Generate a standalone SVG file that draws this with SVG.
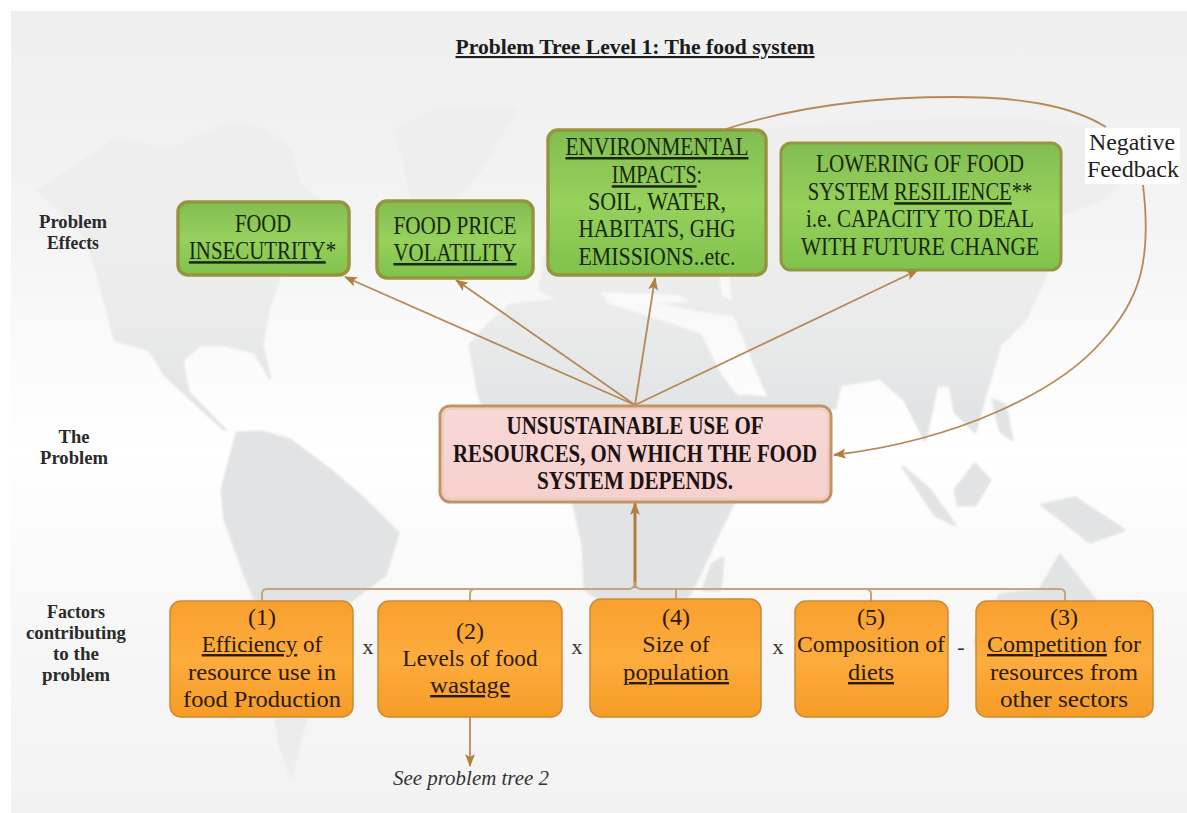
<svg xmlns="http://www.w3.org/2000/svg" width="1187" height="813" viewBox="0 0 1187 813">
<style>
text{font-family:"Liberation Serif","DejaVu Serif",serif;text-anchor:middle}
.g{font-size:25px;fill:#17280c}
.o{font-size:24px;fill:#2c1a08}
.s{font-size:18px;font-weight:bold;fill:#2a2a2a}
.p{font-size:25px;font-weight:bold;fill:#1a1212}
.x{font-size:22px;fill:#333}
.u{text-decoration:underline}
.c{fill:none;stroke:#b58a58;stroke-width:1.8}
.b{fill:none;stroke:#c4a57c;stroke-width:2}
.l{fill:#e2e3e4;stroke:#e2e3e4;stroke-width:3;stroke-linejoin:round}
.w{fill:#fbfbfb}
.gb{stroke:#95953f;stroke-width:3.5}
.ob{stroke:#c98a3a;stroke-width:1.5}
</style>
<defs>
<linearGradient id="bg" x1="0" y1="0" x2="0" y2="1"><stop offset="0" stop-color="#ebebec"/><stop offset=".3" stop-color="#f6f6f6"/><stop offset=".55" stop-color="#fff"/><stop offset=".75" stop-color="#f8f8f8"/><stop offset="1" stop-color="#eeeeee"/></linearGradient>
<linearGradient id="mapfade" x1="0" y1="0" x2="0" y2="1"><stop offset="0" stop-color="#f0f0f0" stop-opacity=".85"/><stop offset=".3" stop-color="#f4f4f4" stop-opacity=".6"/><stop offset=".5" stop-color="#fff" stop-opacity="0"/><stop offset=".8" stop-color="#fff" stop-opacity="0"/><stop offset="1" stop-color="#f4f4f4" stop-opacity=".7"/></linearGradient>
<linearGradient id="gr" x1="0" y1="0" x2="0" y2="1"><stop offset="0" stop-color="#82bd52"/><stop offset=".5" stop-color="#96d15c"/><stop offset="1" stop-color="#80c24c"/></linearGradient>
<linearGradient id="or" x1="0" y1="0" x2="0" y2="1"><stop offset="0" stop-color="#f8a02e"/><stop offset=".5" stop-color="#fdac3e"/><stop offset="1" stop-color="#f59c26"/></linearGradient>
<linearGradient id="pk" x1="0" y1="0" x2="0" y2="1"><stop offset="0" stop-color="#f7d8d5"/><stop offset="1" stop-color="#f6d0cd"/></linearGradient>
<marker id="a" markerWidth="14" markerHeight="12" refX="12" refY="5" orient="auto" markerUnits="userSpaceOnUse"><path d="M0 0L13 5L0 10L3 5Z" fill="#b0803e"/></marker>
<filter id="soft" x="-5%" y="-5%" width="110%" height="110%"><feGaussianBlur stdDeviation="1.2"/></filter>
</defs>
<rect width="1187" height="813" fill="#fff"/>
<rect x="11" y="11" width="1176" height="802" fill="url(#bg)"/>
<g id="map">
<g filter="url(#soft)">
<path class="l" d="M38 190L70 170L115 140L170 150L230 122L265 130L290 150L300 185L318 200L345 215L335 245L300 262L280 275L268 310L262 345L270 378L255 352L225 345L200 345L182 360L188 392L225 430L205 412L165 375L150 350L115 340L100 283L88 240L70 220Z"/>
<path class="l" d="M237 433L262 432L290 440L330 470L365 500L398 533L385 575L345 605L320 660L305 720L291 777L280 745L272 690L268 630L245 575L225 520L222 490Z"/>
<path class="l" d="M395 130L440 108L515 110L495 145L480 170L450 205L435 222L412 200L405 165Z"/>
<path class="l" d="M470 345L488 325L510 305L560 300L590 300L650 318L700 335L720 375L735 395L790 400L770 440L745 480L720 530L692 590L680 605L610 605L585 590L583 545L573 500L545 440L490 430L478 390Z"/>
<path class="l" d="M703 590L712 565L723 558L720 590Z"/>
<path class="l" d="M540 290L545 255L552 230L580 205L610 190L640 200L660 170L690 145L760 130L880 122L1010 118L1090 128L1170 145L1130 175L1100 200L1060 215L1045 225L1048 270L1025 320L1000 345L985 395L975 432L955 412L950 385L937 385L925 440L905 400L880 378L840 385L835 408L775 410L755 365L735 315L700 310L640 298L570 305Z"/>
<path class="l" d="M903 467L930 490L955 525L935 515Z"/>
<path class="l" d="M955 490L975 464L990 480L975 505L958 505Z"/>
<path class="l" d="M1042 505L1075 498L1124 530L1090 542Z"/>
<path class="l" d="M993 400L1005 405L1012 440L1000 430Z"/>
<path class="l" d="M975 640L1000 595L1040 590L1060 555L1095 600L1110 660L1085 715L1020 690L985 690Z"/>
<path class="w" d="M718 332L738 395L745 395L728 332Z"/>
<path class="w" d="M600 292L680 295L690 302L610 304Z"/>
<path class="w" d="M718 265L728 270L732 300L722 296Z"/>
</g>
<rect x="11" y="11" width="1176" height="802" fill="url(#mapfade)"/>
</g>
<text x="635" y="54" class="u" style="font-size:21px;font-weight:bold;fill:#1c1c1c" textLength="359" lengthAdjust="spacingAndGlyphs">Problem Tree Level 1: The food system</text>
<g id="labels">
<text class="s" x="73" y="228" textLength="68" lengthAdjust="spacingAndGlyphs">Problem</text><text class="s" x="73" y="249" textLength="52" lengthAdjust="spacingAndGlyphs">Effects</text>
<text class="s" x="74" y="443" textLength="31" lengthAdjust="spacingAndGlyphs">The</text><text class="s" x="74" y="464" textLength="68" lengthAdjust="spacingAndGlyphs">Problem</text>
<text class="s" x="76" y="618" textLength="58" lengthAdjust="spacingAndGlyphs">Factors</text><text class="s" x="76" y="639" textLength="100" lengthAdjust="spacingAndGlyphs">contributing</text><text class="s" x="76" y="660" textLength="46" lengthAdjust="spacingAndGlyphs">to the</text><text class="s" x="76" y="681" textLength="68" lengthAdjust="spacingAndGlyphs">problem</text>
</g>
<g id="connectors">
<path class="c" d="M635 405L345 277" marker-end="url(#a)"/>
<path class="c" d="M635 405L456 280" marker-end="url(#a)"/>
<path class="c" d="M635 405L655 278" marker-end="url(#a)"/>
<path class="c" d="M635 405L918 270" marker-end="url(#a)"/>
<path class="c" d="M726 129C800 105 880 97 953 97C1020 97 1070 105 1106 127"/>
<path class="c" d="M1143 185C1152 260 1140 300 1102 341C1060 390 960 440 834 455" marker-end="url(#a)"/>
<path class="c" d="M635 588V503" style="stroke-width:3;stroke:#b07e3a" marker-end="url(#a)"/>
<path class="b" d="M262 601V594Q262 589 267 589H628Q635 589 635 582Q635 589 642 589H1060Q1065 589 1065 594V601"/>
<path class="b" d="M470 601V594Q470 589 475 589M676 599V589M871 601V594Q871 589 866 589"/>
<path class="c" d="M470 717V766" marker-end="url(#a)"/>
</g>
<g id="effect-1"><rect class="gb" x="178" y="202" width="171" height="73" rx="10" fill="url(#gr)"/>
<text class="g" x="263" y="232" textLength="56" lengthAdjust="spacingAndGlyphs">FOOD</text><text class="g" transform="translate(262.5 259) scale(.835 1)"><tspan class="u">INSECUTRITY</tspan>*</text></g>
<g id="effect-2"><rect class="gb" x="377" y="201" width="156" height="77" rx="10" fill="url(#gr)"/>
<text class="g" x="455" y="234" textLength="123" lengthAdjust="spacingAndGlyphs">FOOD PRICE</text><text class="g u" x="455" y="261" textLength="123" lengthAdjust="spacingAndGlyphs">VOLATILITY</text></g>
<g id="effect-3"><rect class="gb" x="548" y="130" width="218" height="145" rx="10" fill="url(#gr)"/>
<text class="g u" x="657" y="155" textLength="183" lengthAdjust="spacingAndGlyphs">ENVIRONMENTAL</text><text class="g" transform="translate(657 183) scale(.8 1)"><tspan class="u">IMPACTS</tspan>:</text><text class="g" x="657" y="210" textLength="138" lengthAdjust="spacingAndGlyphs">SOIL, WATER,</text><text class="g" x="657" y="237" textLength="157" lengthAdjust="spacingAndGlyphs">HABITATS, GHG</text><text class="g" x="657" y="265" textLength="157" lengthAdjust="spacingAndGlyphs">EMISSIONS..etc.</text></g>
<g id="effect-4"><rect class="gb" x="781" y="143" width="280" height="127" rx="10" fill="url(#gr)" style="stroke-width:3"/>
<text class="g" x="920" y="172" textLength="208" lengthAdjust="spacingAndGlyphs">LOWERING OF FOOD</text><text class="g" transform="translate(920 200) scale(.823 1)">SYSTEM <tspan class="u">RESILIENCE</tspan>**</text><text class="g" x="920" y="227" textLength="228" lengthAdjust="spacingAndGlyphs">i.e. CAPACITY TO DEAL</text><text class="g" x="920" y="255" textLength="238" lengthAdjust="spacingAndGlyphs">WITH FUTURE CHANGE</text></g>
<g id="feedback"><rect x="1085" y="128" width="95" height="56" fill="#fff"/>
<text x="1132" y="150" style="font-size:24px;fill:#222" textLength="86" lengthAdjust="spacingAndGlyphs">Negative</text><text x="1133" y="177" style="font-size:24px;fill:#222" textLength="92" lengthAdjust="spacingAndGlyphs">Feedback</text></g>
<g id="problem"><rect x="440" y="406" width="391" height="96" rx="10" fill="url(#pk)" stroke="#c09468" stroke-width="3"/><rect x="443" y="409" width="385" height="90" rx="8" fill="none" stroke="#e6c6b0" stroke-width="1"/>
<text class="p" x="635" y="434" textLength="257" lengthAdjust="spacingAndGlyphs">UNSUSTAINABLE USE OF</text><text class="p" x="635" y="462" textLength="364" lengthAdjust="spacingAndGlyphs">RESOURCES, ON WHICH THE FOOD</text><text class="p" x="635" y="489" textLength="196" lengthAdjust="spacingAndGlyphs">SYSTEM DEPENDS.</text></g>
<g id="factor-1"><rect class="ob" x="170" y="601" width="183" height="116" rx="11" fill="url(#or)"/>
<text class="o" x="262" y="625">(1)</text><text class="o" transform="translate(262 652) scale(.96 1)"><tspan class="u">Efficiency</tspan> of</text><text class="o" x="262" y="680" textLength="148" lengthAdjust="spacingAndGlyphs">resource use in</text><text class="o" x="262" y="707" textLength="158" lengthAdjust="spacingAndGlyphs">food Production</text></g>
<g id="factor-2"><rect class="ob" x="378" y="601" width="184" height="116" rx="11" fill="url(#or)"/>
<text class="o" x="470" y="639">(2)</text><text class="o" x="470" y="666" textLength="135" lengthAdjust="spacingAndGlyphs">Levels of food</text><text class="o u" x="470" y="693" textLength="80" lengthAdjust="spacingAndGlyphs">wastage</text></g>
<g id="factor-4"><rect class="ob" x="590" y="599" width="171" height="118" rx="11" fill="url(#or)"/>
<text class="o" x="676" y="625">(4)</text><text class="o" x="676" y="652">Size of</text><text class="o u" x="676" y="680" textLength="106" lengthAdjust="spacingAndGlyphs">population</text></g>
<g id="factor-5"><rect class="ob" x="795" y="601" width="153" height="116" rx="11" fill="url(#or)"/>
<text class="o" x="871" y="625">(5)</text><text class="o" x="871" y="652" textLength="148" lengthAdjust="spacingAndGlyphs">Composition of</text><text class="o u" x="871" y="680" textLength="46" lengthAdjust="spacingAndGlyphs">diets</text></g>
<g id="factor-3"><rect class="ob" x="976" y="601" width="177" height="116" rx="11" fill="url(#or)"/>
<text class="o" x="1064" y="625">(3)</text><text class="o" x="1064" y="652"><tspan class="u">Competition</tspan> for</text><text class="o" x="1064" y="680" textLength="148" lengthAdjust="spacingAndGlyphs">resources from</text><text class="o" x="1064" y="707" textLength="128" lengthAdjust="spacingAndGlyphs">other sectors</text></g>
<g id="operators"><text class="x" x="368" y="654">x</text><text class="x" x="577" y="654">x</text><text class="x" x="778" y="654">x</text><text class="x" x="961" y="654">-</text></g>
<text x="471" y="785" style="font-size:20px;font-style:italic;fill:#333" textLength="156" lengthAdjust="spacingAndGlyphs">See problem tree 2</text>
</svg>
